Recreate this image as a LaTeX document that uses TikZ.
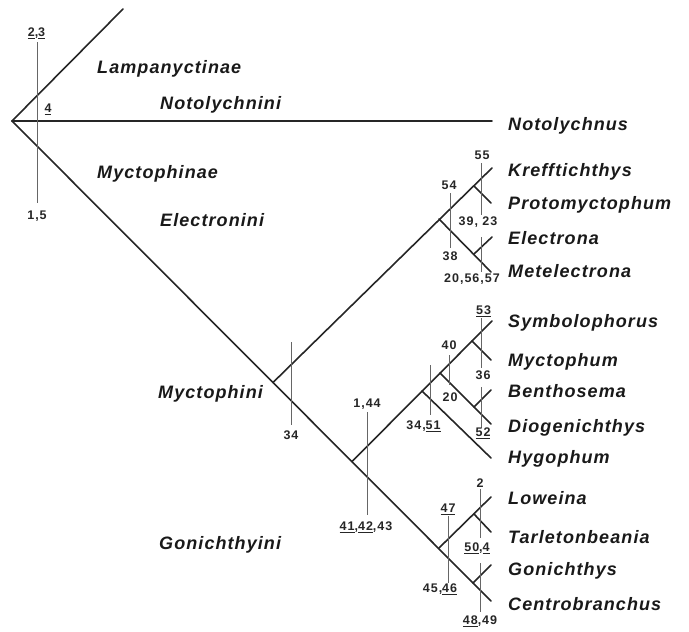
\documentclass[tikz,border=0pt]{standalone}
\usepackage{fontspec}
\setmainfont{Liberation Sans}
\newfontfamily\taxfont[LetterSpace=6]{Liberation Sans}
\newfontfamily\numfont[LetterSpace=8]{Liberation Sans}
\begin{document}
\begin{tikzpicture}[x=1pt,y=-1pt,
  branch/.style={line width=1.6pt, draw=black!85, line cap=round},
  charline/.style={line width=0.8pt, draw=black!60},
  taxon/.style={anchor=base west, inner sep=0pt, text=black!90,
    font=\taxfont\fontsize{18}{20}\selectfont\bfseries\itshape},
  num/.style={anchor=base, inner sep=0pt, text=black!85,
    font=\numfont\fontsize{12.5}{14}\selectfont\bfseries}]
\useasboundingbox (0,0) rectangle (689,632);

% ---- junctions and tips
\coordinate (root) at (12,121);
\coordinate (lamp) at (123,9);
\coordinate (noto) at (492,121);
\coordinate (myctJ) at (273,382.5);
\coordinate (mJ2) at (352,461.5);
\coordinate (gJ) at (439,548);
\coordinate (gcJ) at (473,583);
\coordinate (tCen) at (491,601);
\coordinate (tGon) at (491,565);
% Electronini
\coordinate (eJ) at (439,219);
\coordinate (ekJ) at (474,186);
\coordinate (tKre) at (492,168);
\coordinate (tPro) at (491,203);
\coordinate (eeJ) at (474,254);
\coordinate (tEle) at (492,237);
\coordinate (tMet) at (491,272);
% Myctophini
\coordinate (hJ) at (422,391);
\coordinate (fJ) at (440,373);
\coordinate (smJ) at (472,341);
\coordinate (tSym) at (492,321);
\coordinate (tMyc) at (491,360);
\coordinate (bdJ) at (474,407);
\coordinate (tBen) at (491,390);
\coordinate (tDio) at (491,424);
\coordinate (tHyg) at (491,458);
% Gonichthyini
\coordinate (ltJ) at (474,514);
\coordinate (tLow) at (491,497);
\coordinate (tTar) at (491,532);

% ---- branches
\draw[branch] (root) -- (lamp);
\draw[branch] (root) -- (noto);
\draw[branch] (root) -- (tCen);
\draw[branch] (myctJ) -- (tKre);
\draw[branch] (eJ) -- (tMet);
\draw[branch] (ekJ) -- (tPro);
\draw[branch] (eeJ) -- (tEle);
\draw[branch] (mJ2) -- (tSym);
\draw[branch] (hJ) -- (tHyg);
\draw[branch] (fJ) -- (tDio);
\draw[branch] (smJ) -- (tMyc);
\draw[branch] (bdJ) -- (tBen);
\draw[branch] (gJ) -- (tLow);
\draw[branch] (ltJ) -- (tTar);
\draw[branch] (gcJ) -- (tGon);

% ---- character lines
\foreach \n/\x/\a/\b in {c1/37/42/203, c54/450/193/248, c55/481/163/215,
  c20/481/237/272, c34/291/342/425, c144/367/412/515, c3451/430/365/415,
  c40/449/355/385, c53/481/318/368, c52/481/387/428, c47/448/516/583,
  c2/480/489/538, c48/480/563/612}{
  \coordinate (\n top) at (\x,\a);
  \coordinate (\n bot) at (\x,\b);
  \draw[charline] (\n top) -- (\n bot);
}

% ---- group names
\node[taxon] (gLamp) at (97,73.5) {Lampanyctinae};
\node[taxon] (gNoto) at (160,109.5) {Notolychnini};
\node[taxon] (gMyctae) at (97,178.5) {Myctophinae};
\node[taxon] (gElec) at (160,226.5) {Electronini};
\node[taxon] (gMyct) at (158,398.5) {Myctophini};
\node[taxon] (gGon) at (159,549.5) {Gonichthyini};

% ---- taxa
\node[taxon] (nNoto) at (508,130.5) {Notolychnus};
\node[taxon] (nKre) at (508,176.5) {Krefftichthys};
\node[taxon] (nPro) at (508,209.5) {Protomyctophum};
\node[taxon] (nEle) at (508,244.5) {Electrona};
\node[taxon] (nMet) at (508,277.5) {Metelectrona};
\node[taxon] (nSym) at (508,327.5) {Symbolophorus};
\node[taxon] (nMyc) at (508,366.5) {Myctophum};
\node[taxon] (nBen) at (508,397.5) {Benthosema};
\node[taxon] (nDio) at (508,432.5) {Diogenichthys};
\node[taxon] (nHyg) at (508,463.5) {Hygophum};
\node[taxon] (nLow) at (508,504.5) {Loweina};
\node[taxon] (nTar) at (508,543.5) {Tarletonbeania};
\node[taxon] (nGon) at (508,575.5) {Gonichthys};
\node[taxon] (nCen) at (508,610.5) {Centrobranchus};

% ---- character numbers
\node[num] (k23) at (36.5,36.5) {\underline{2},\underline{3}};
\node[num] (k4) at (48,112.5) {\underline{4}};
\node[num] (k15) at (37,219.5) {1,5};
\node[num] (k55) at (482,159.5) {55};
\node[num] (k54) at (449,189.5) {54};
\node[num] (k3923) at (478,225.5) {39, 23};
\node[num] (k38) at (450,260.5) {38};
\node[num] (k205657) at (472,282.5) {20,56,57};
\node[num] (k53) at (483.5,314.5) {\underline{53}};
\node[num] (k40) at (449,349.5) {40};
\node[num] (k36) at (483,379.5) {36};
\node[num] (k20) at (450,401.5) {20};
\node[num] (k3451) at (423.5,429.5) {34,\underline{51}};
\node[num] (k52) at (483,436.5) {\underline{52}};
\node[num] (k144) at (367,407.5) {1,44};
\node[num] (k34) at (291,439.5) {34};
\node[num] (k414243) at (366,530.5) {\underline{41},\underline{42},43};
\node[num] (k2) at (480,487.5) {2};
\node[num] (k47) at (448,512.5) {\underline{47}};
\node[num] (k504) at (477,551.5) {\underline{50},\underline{4}};
\node[num] (k4546) at (440,592.5) {45,\underline{46}};
\node[num] (k4849) at (480,624.5) {\underline{48},49};
\end{tikzpicture}
\end{document}
